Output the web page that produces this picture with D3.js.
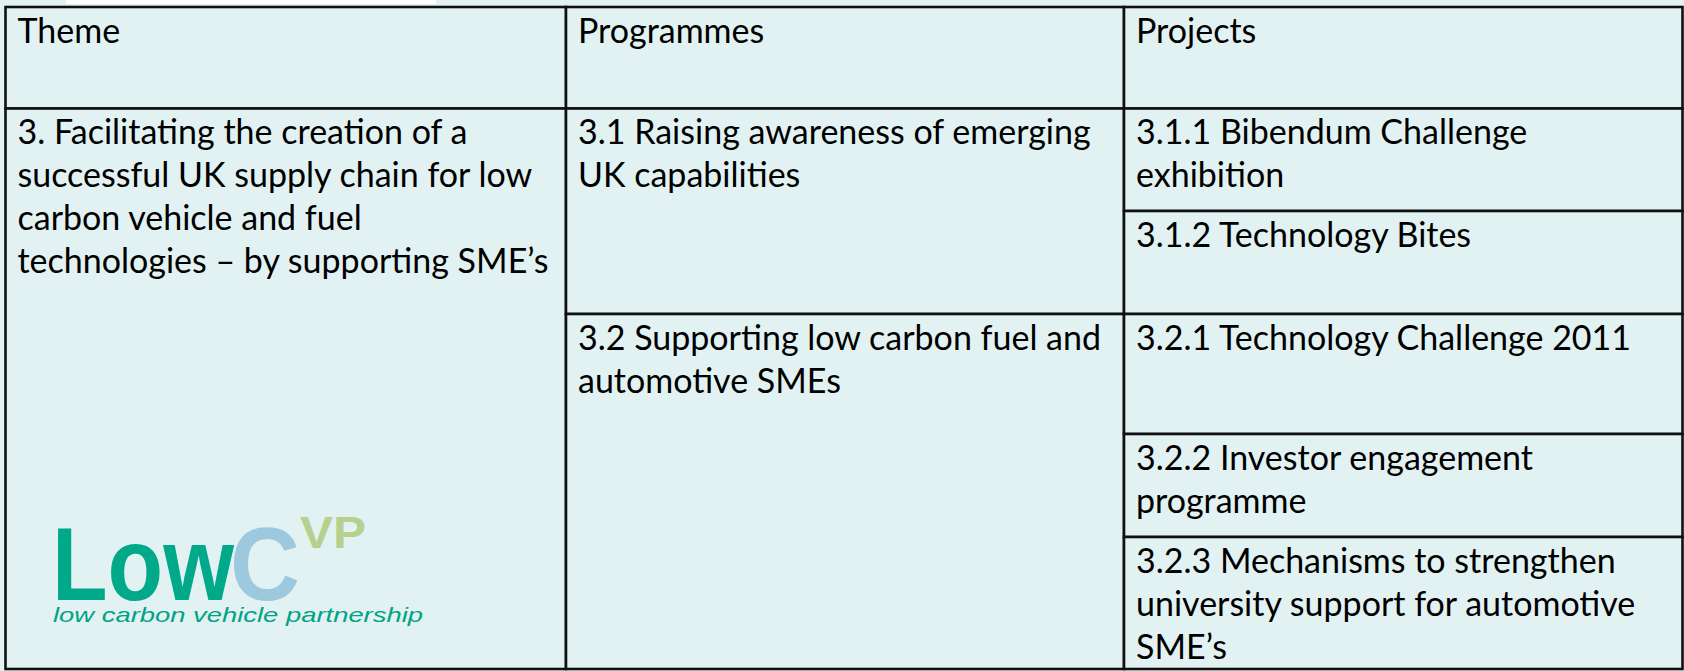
<!DOCTYPE html>
<html>
<head>
<meta charset="utf-8">
<script src="https://cdn.jsdelivr.net/npm/d3@7"></script>
<style>
  html, body { margin: 0; padding: 0; background: #e2f2f2; }
  svg { display: block; }
</style>
</head>
<body>
<svg id="chart" width="1684" height="671"></svg>
<script>
// table content
var headers = ["Theme", "Programmes", "Projects"];
var themes = [
  ["3. Facilitating the creation of a", "successful UK supply chain for low", "carbon vehicle and fuel", "technologies \u2013 by supporting SME\u2019s"]
];
var programmes = [
  ["3.1 Raising awareness of emerging", "UK capabilities"],
  ["3.2 Supporting low carbon fuel and", "automotive SMEs"]
];
var projectsPerProgramme = [2, 3];
var projects = [
  ["3.1.1 Bibendum Challenge", "exhibition"],
  ["3.1.2 Technology Bites"],
  ["3.2.1 Technology Challenge 2011"],
  ["3.2.2 Investor engagement", "programme"],
  ["3.2.3 Mechanisms to strengthen", "university support for automotive", "SME\u2019s"]
];

// layout
var rowEdges = [7, 108.5, 211, 314, 434, 537, 669];
var colEdges = [5.5, 566, 1124, 1682.5];
var fontSize = 34, lineH = 43, padX = 12, firstBase = 35.5;

var svg = d3.select("#chart");
var width = +svg.attr("width"), height = +svg.attr("height");

var x = d3.scaleOrdinal().domain(d3.range(4)).range(colEdges);
var y = d3.scaleOrdinal().domain(d3.range(rowEdges.length)).range(rowEdges);

svg.append("rect").attr("width", width).attr("height", height).attr("fill", "#e2f2f2");
svg.append("rect").attr("x", 66).attr("y", 0).attr("width", 370).attr("height", 4).attr("fill", "#ffffff");

// build cell list: col, row0, row1, lines
var cells = [];
headers.forEach(function (h, i) { cells.push({c: i, r0: 0, r1: 1, lines: [h]}); });
themes.forEach(function (t) { cells.push({c: 0, r0: 1, r1: rowEdges.length - 1, lines: t}); });
var r = 1;
programmes.forEach(function (p, i) {
  cells.push({c: 1, r0: r, r1: r + projectsPerProgramme[i], lines: p});
  r += projectsPerProgramme[i];
});
projects.forEach(function (p, i) { cells.push({c: 2, r0: i + 1, r1: i + 2, lines: p}); });

var g = svg.append("g");
var cell = g.selectAll("g.cell").data(cells).enter().append("g").attr("class", "cell");

cell.append("rect")
  .attr("x", function (d) { return x(d.c); })
  .attr("y", function (d) { return y(d.r0); })
  .attr("width", function (d) { return x(d.c + 1) - x(d.c); })
  .attr("height", function (d) { return y(d.r1) - y(d.r0); })
  .attr("fill", "#e2f2f2")
  .attr("stroke", "#111")
  .attr("stroke-width", 2.6);

cell.append("text")
  .attr("font-family", "Lato, 'Open Sans', sans-serif")
  .attr("font-size", fontSize)
  .attr("fill", "#000")
  .selectAll("tspan")
  .data(function (d) { return d.lines.map(function (l, k) { return {l: l, k: k, d: d}; }); })
  .enter().append("tspan")
  .attr("x", function (t) { return x(t.d.c) + padX; })
  .attr("y", function (t) { return y(t.d.r0) + firstBase + t.k * lineH; })
  .text(function (t) { return t.l; });

// logo
var logo = svg.append("g").attr("font-family", "'Liberation Sans', Arial, sans-serif");
logo.append("text").attr("x", 52).attr("y", 600).attr("font-size", 104).attr("font-weight", "bold")
  .attr("fill", "#00a98a").attr("textLength", 182).attr("lengthAdjust", "spacingAndGlyphs").text("Low");
logo.append("text").attr("x", 230).attr("y", 600).attr("font-size", 104).attr("font-weight", "bold")
  .attr("fill", "#9cc9dd").attr("textLength", 70).attr("lengthAdjust", "spacingAndGlyphs").text("C");
logo.append("text").attr("x", 300).attr("y", 548).attr("font-size", 44).attr("font-weight", "bold")
  .attr("fill", "#b6d08e").attr("textLength", 66).attr("lengthAdjust", "spacingAndGlyphs").text("VP");
logo.append("text").attr("x", 53).attr("y", 622).attr("font-size", 21).attr("font-style", "italic")
  .attr("fill", "#00a486").attr("textLength", 370).attr("lengthAdjust", "spacingAndGlyphs").text("low carbon vehicle partnership");
</script>
</body>
</html>
